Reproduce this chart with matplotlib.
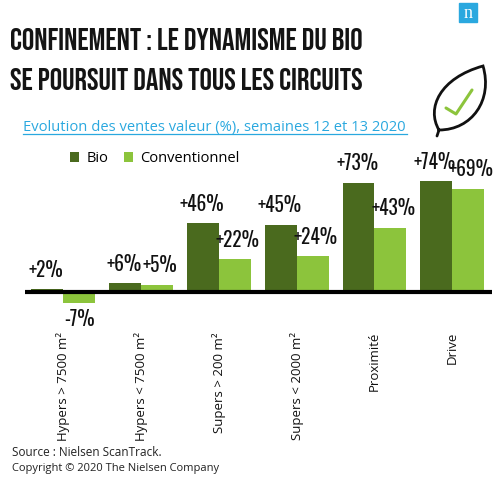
import matplotlib
matplotlib.use("Agg")
import matplotlib.pyplot as plt
from matplotlib.path import Path
from matplotlib.patches import PathPatch, Rectangle
from matplotlib.lines import Line2D

# donnees
circuits = ["Hypers > 7500 m²", "Hypers < 7500 m²", "Supers > 200 m²",
            "Supers < 2000 m²", "Proximité", "Drive"]
bio = [2, 6, 46, 45, 73, 74]
conventionnel = [-7, 5, 22, 24, 43, 69]
series_names = ["Bio", "Conventionnel"]

DARK = "#4a6a1e"
LIGHT = "#8cc43c"
BLUE = "#2aa8df"
TITLE = ["Bebas Neue", "Liberation Sans Narrow", "DejaVu Sans"]
COND = ["Oswald", "Liberation Sans Narrow", "DejaVu Sans"]
SANS = ["Open Sans", "DejaVu Sans"]

W, H = 503, 482
fig = plt.figure(figsize=(W / 100, H / 100), dpi=100)

# axes du graphique (zero a y=292 px, 1.5 px par %)
y0, ymin, ymax = 292, -20, 85
ax_bottom = y0 - ymin * 1.5
ax_top = y0 - ymax * 1.5
ax = fig.add_axes([25 / W, (H - ax_bottom) / H, 467 / W, (ax_bottom - ax_top) / H])
ax.set_xlim(-0.49, 5.51)
ax.set_ylim(ymin, ymax)
ax.axis("off")

bw = 0.41
x = list(range(len(circuits)))
b1 = ax.bar([i - bw / 2 for i in x], bio, bw, color=DARK, label=series_names[0])
b2 = ax.bar([i + bw / 2 for i in x], conventionnel, bw, color=LIGHT, label=series_names[1])
ax.axhline(0, color="black", lw=3, zorder=5)

for k, (bars, vals) in enumerate([(b1, bio), (b2, conventionnel)]):
    for r, v in zip(bars, vals):
        cx = r.get_x() + r.get_width() / 2
        txt = ("+%d%%" % v) if v > 0 else ("%d%%" % v)
        dx = (2 if k == 1 else -1) if v > 0 else 0
        if v >= 0:
            ax.annotate(txt, (cx, v), xytext=(dx, 6.5), textcoords="offset points",
                        ha="center", va="bottom", fontsize=14, family=COND,
                        color="#111111")
        else:
            ax.annotate(txt, (cx, v), xytext=(0, -5), textcoords="offset points",
                        ha="center", va="top", fontsize=14, family=COND,
                        color="#111111")

for i, lab in enumerate(circuits):
    ax.text(i, -(332 - y0) / 1.5, lab, rotation=90, ha="center", va="top",
            fontsize=9.5, family=SANS, color="#111111", clip_on=False)

leg = ax.legend(loc="upper left", bbox_to_anchor=(57 / W, 1 - 138 / H),
                bbox_transform=fig.transFigure, ncol=2, frameon=False,
                handlelength=0.6, handleheight=0.6, handletextpad=0.5,
                columnspacing=1.1, prop={"family": SANS, "size": 10.5})

# calque en pixels pour titre, logo, feuille, sources
ov = fig.add_axes([0, 0, 1, 1], zorder=-1)
ov.set_xlim(0, W)
ov.set_ylim(H, 0)
ov.axis("off")

ov.text(10, 50, "CONFINEMENT : LE DYNAMISME DU BIO", fontsize=22.4, family=TITLE,
        color="#141414", va="baseline")
ov.text(10, 90, "SE POURSUIT DANS TOUS LES CIRCUITS", fontsize=22.4, family=TITLE,
        color="#141414", va="baseline")

ov.text(23, 131, "Evolution des ventes valeur (%), semaines 12 et 13 2020", fontsize=10.6,
        family=SANS, color=BLUE, va="baseline")
ov.add_line(Line2D([23, 407], [133.5, 133.5], color=BLUE, lw=0.9))

# logo
ov.add_patch(Rectangle((459, 3), 18, 19, color=BLUE))
ov.text(468, 13, "n", fontsize=13, family="Liberation Serif", color="white",
        ha="center", va="center")

# feuille
leaf = Path([(439, 130), (426, 108), (440, 78), (483, 66),
             (493, 100), (472, 130), (439, 130),
             (437, 136)],
            [Path.MOVETO, Path.CURVE4, Path.CURVE4, Path.CURVE4,
             Path.CURVE4, Path.CURVE4, Path.CURVE4, Path.LINETO])
ov.add_patch(PathPatch(leaf, fill=False, ec="#111111", lw=2, capstyle="round"))
ov.add_line(Line2D([446, 456, 472], [108, 114, 90], color=LIGHT, lw=2.2,
                   solid_capstyle="round", solid_joinstyle="round"))

ov.text(12, 452, "Source : Nielsen ScanTrack.", fontsize=8.5, family=SANS,
        color="#222222", va="center")
ov.text(12, 468, "Copyright © 2020 The Nielsen Company", fontsize=8, family=SANS,
        color="#222222", va="center")

fig.savefig("out.png", dpi=100)
